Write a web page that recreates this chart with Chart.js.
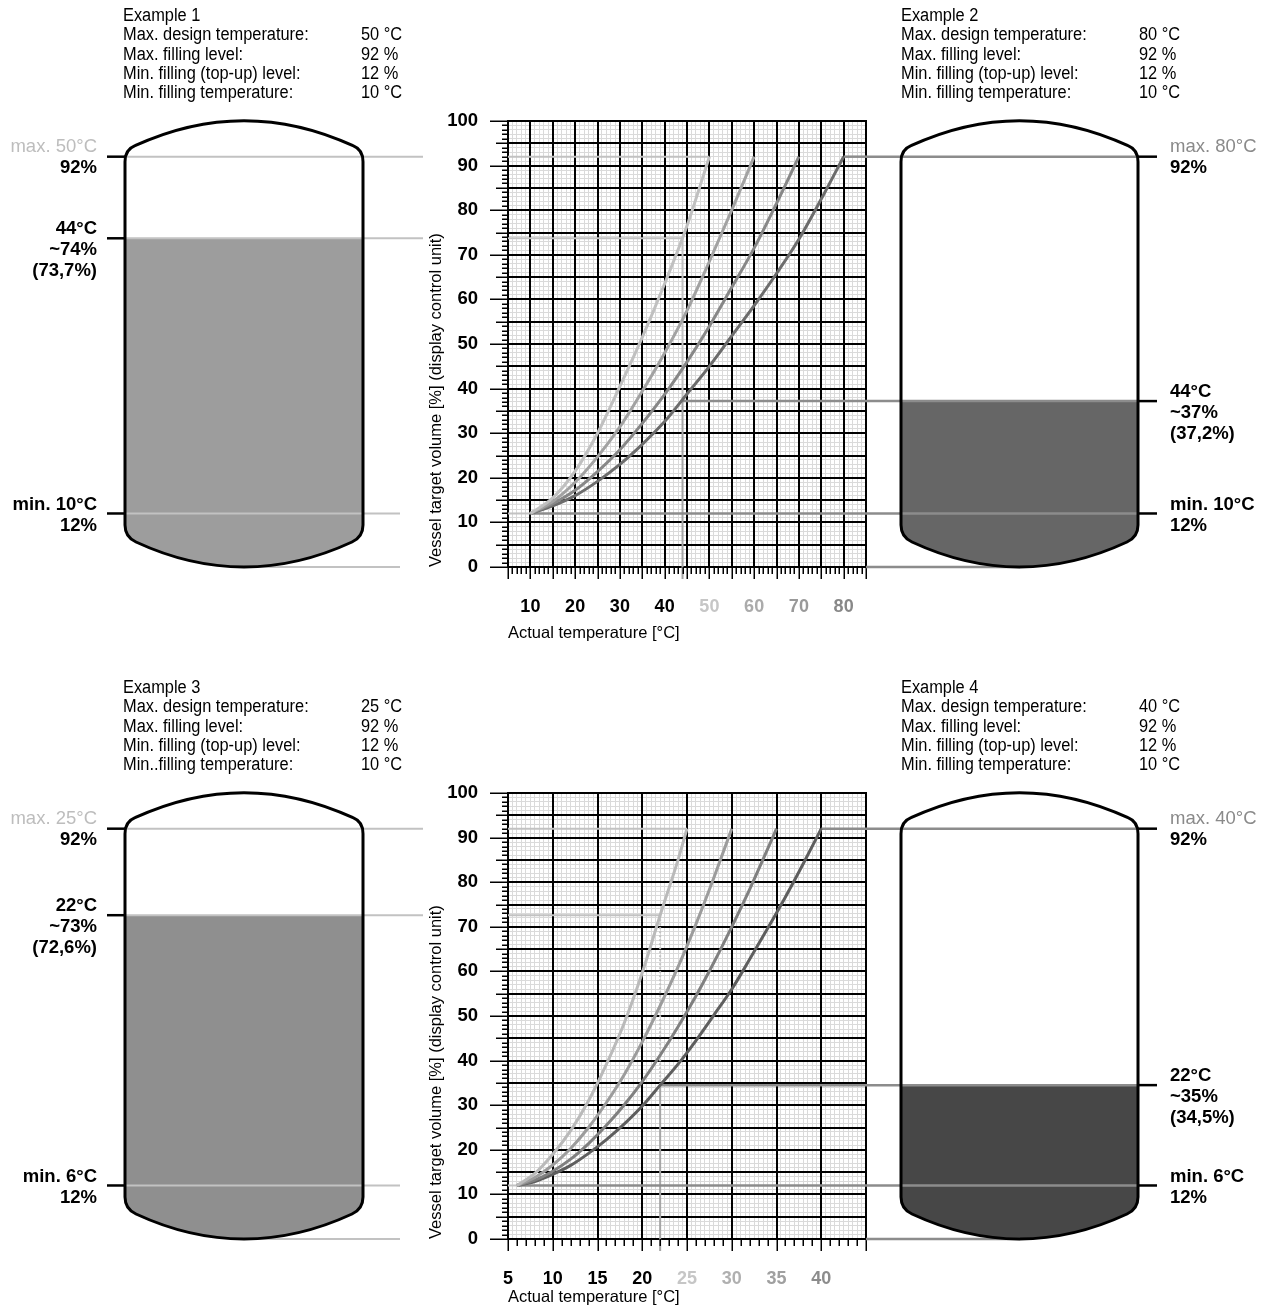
<!DOCTYPE html>
<html>
<head>
<meta charset="utf-8">
<title>Vessel target volume - examples</title>
<script src="https://cdn.jsdelivr.net/npm/chart.js@4.4.1/dist/chart.umd.min.js"></script>
<style>
  html, body { margin: 0; padding: 0; background: #fff; }
  canvas { display: block; }
</style>
</head>
<body>
<canvas id="chartTop" width="1269" height="672"></canvas>
<canvas id="chartBottom" width="1269" height="638"></canvas>
<script>
// ---------- data ----------
const headerLabels = ['Max. design temperature:', 'Max. filling level:', 'Min. filling (top-up) level:', 'Min. filling temperature:'];
const headerLabelsEx3 = ['Max. design temperature:', 'Max. filling level:', 'Min. filling (top-up) level:', 'Min..filling temperature:'];
const ex1Values = ['50 °C', '92 %', '12 %', '10 °C'];
const ex2Values = ['80 °C', '92 %', '12 %', '10 °C'];
const ex3Values = ['25 °C', '92 %', '12 %', '10 °C'];
const ex4Values = ['40 °C', '92 %', '12 %', '10 °C'];

const maxLevel = 92;
const minLevel = 12;

// top chart (examples 1 + 2), curves for max temp 50/60/70/80 °C
const tempsTop = [10, 15, 20, 25, 30, 35, 40, 45, 50, 55, 60, 65, 70, 75, 80];
const curveTop50 = [12, 15.5, 21.5, 30, 40.5, 51.5, 63.5, 76.5, 92];
const curveTop60 = [12, 14.7, 19, 24.7, 31.4, 39.4, 48, 57.5, 68.5, 80, 92];
const curveTop70 = [12, 14.2, 17.2, 21.4, 26.3, 32.2, 38.7, 46, 54, 62.7, 71.5, 81.5, 92];
const curveTop80 = [12, 13.7, 16, 19.2, 23, 27.5, 32.6, 38.8, 45, 51.8, 58.6, 65.8, 73.5, 82.5, 92];
const xLabelsTop = [10, 20, 30, 40, 50, 60, 70, 80];

// bottom chart (examples 3 + 4), curves for max temp 25/30/35/40 °C
const temps25 = [6, 8, 10, 12, 14, 16, 18, 20, 22, 24, 25];
const curveBot25 = [12, 14.7, 19, 24.3, 31, 39.2, 48.5, 59.7, 72.6, 85, 92];
const temps30 = [6, 8, 10, 12, 14, 16, 18, 20, 22, 24, 26, 28, 30];
const curveBot30 = [12, 13.8, 16.6, 20.3, 25, 30.6, 36.9, 44.2, 52.3, 61, 70.6, 81, 92];
const temps35 = [6, 8, 10, 12, 14, 16, 18, 20, 22, 24, 26, 28, 30, 32, 34, 35];
const curveBot35 = [12, 13.2, 15.2, 17.9, 21.4, 25.5, 30.1, 35.3, 41.2, 47.6, 54.5, 62, 70, 78.4, 87.4, 92];
const temps40 = [6, 8, 10, 12, 14, 16, 18, 20, 22, 24, 26, 28, 30, 32, 34, 36, 38, 40];
const curveBot40 = [12, 12.9, 14.5, 16.5, 19.2, 22.3, 25.8, 29.8, 34.5, 39.2, 44.5, 50.2, 56, 62.7, 69.6, 76.7, 84.2, 92];
const xLabelsBottom = [5, 10, 15, 20, 25, 30, 35, 40];

// operating points [temperature, level] and their labels
const ex1Point = [44, 73.7];
const ex2Point = [44, 37.2];
const ex3Point = [22, 72.6];
const ex4Point = [22, 34.5];
const ex1Text = ['44°C', '~74%', '(73,7%)'];
const ex2Text = ['44°C', '~37%', '(37,2%)'];
const ex3Text = ['22°C', '~73%', '(72,6%)'];
const ex4Text = ['22°C', '~35%', '(34,5%)'];

// ---------- styles ----------
const FONT = "'Liberation Sans', Arial, Helvetica, sans-serif";
const LIGHT = '#c2c2c2';
const DARK = '#8c8c8c';
const xLabelColorsTop = ['#000', '#000', '#000', '#000', '#c6c6c6', '#ababab', '#999', '#888'];
const xLabelColorsBottom = ['#000', '#000', '#000', '#000', '#c6c6c6', '#b0b0b0', '#a0a0a0', '#8c8c8c'];

function seg(ctx, x1, y1, x2, y2, color, w, dash) {
  ctx.save();
  ctx.strokeStyle = color;
  ctx.lineWidth = w;
  if (dash) ctx.setLineDash(dash);
  ctx.beginPath();
  ctx.moveTo(x1, y1);
  ctx.lineTo(x2, y2);
  ctx.stroke();
  ctx.restore();
}

// narrow text: draw a bigger font squeezed horizontally
function narrowText(ctx, text, x0, y0, sx) {
  ctx.save();
  ctx.translate(x0, y0);
  ctx.scale(sx, 1);
  ctx.fillText(text, 0, 0);
  ctx.restore();
}

// vessel outline: flat-ish domes top and bottom
function vesselPath(ctx, xl, xr, y92, y0) {
  const cx = (xl + xr) / 2;
  ctx.beginPath();
  ctx.moveTo(xl, y92 + 5);
  ctx.quadraticCurveTo(xl, y92 - 7, xl + 10, y92 - 11);
  ctx.quadraticCurveTo(cx, y92 - 61, xr - 10, y92 - 11);
  ctx.quadraticCurveTo(xr, y92 - 7, xr, y92 + 5);
  ctx.lineTo(xr, y0 - 42);
  ctx.quadraticCurveTo(xr, y0 - 30, xr - 11, y0 - 25);
  ctx.quadraticCurveTo(cx, y0 + 25, xl + 11, y0 - 25);
  ctx.quadraticCurveTo(xl, y0 - 30, xl, y0 - 42);
  ctx.closePath();
}

function makePlugin(cfg) {
  return {
    id: 'vessels' + cfg.name,
    beforeDatasetsDraw(chart) {
      const {ctx, chartArea: a, scales: {x, y}} = chart;
      // heavy grid every 5 units
      ctx.save();
      ctx.strokeStyle = '#000';
      ctx.lineWidth = 2;
      ctx.beginPath();
      for (let v = cfg.xMin; v <= cfg.xMax + 1e-9; v += 5) {
        const px = Math.round(x.getPixelForValue(v));
        ctx.moveTo(px, a.top - 1);
        ctx.lineTo(px, a.bottom + 1);
      }
      for (let v = 0; v <= 100; v += 5) {
        const py = Math.round(y.getPixelForValue(v));
        ctx.moveTo(a.left - 1, py);
        ctx.lineTo(a.right + 1, py);
      }
      ctx.stroke();
      ctx.restore();

      const yp = v => y.getPixelForValue(v);
      const xp = v => x.getPixelForValue(v);
      const op = cfg.opTemp;
      // left example guides (light)
      seg(ctx, a.left, yp(maxLevel), xp(cfg.left.maxTemp), yp(maxLevel), LIGHT, 2);
      seg(ctx, a.left, yp(cfg.left.level), xp(op), yp(cfg.left.level), LIGHT, 2);
      seg(ctx, a.left, yp(minLevel), xp(cfg.startTemp), yp(minLevel), LIGHT, 2);
      seg(ctx, xp(op), yp(cfg.left.level), xp(op), yp(cfg.right.level), LIGHT, 2, cfg.dashedUpper ? [2, 2] : null);
      seg(ctx, xp(op), yp(cfg.right.level), xp(op), yp(0) + 12, '#a5a5a5', 2);
      // right example guides (dark)
      seg(ctx, xp(cfg.right.maxTemp), yp(maxLevel), a.right, yp(maxLevel), DARK, 2.5);
      seg(ctx, xp(op), yp(cfg.right.level), a.right, yp(cfg.right.level), DARK, 2.5);
      seg(ctx, xp(cfg.startTemp), yp(minLevel), a.right, yp(minLevel), DARK, 2.5);
    },
    afterDraw(chart) {
      const {ctx, chartArea: a, scales: {x, y}} = chart;
      const yp = v => y.getPixelForValue(v);
      const y92 = yp(maxLevel), y12 = yp(minLevel), y0 = yp(0);
      const yL = yp(cfg.left.level), yR = yp(cfg.right.level);

      // axis tick marks
      ctx.save();
      ctx.strokeStyle = '#000';
      ctx.lineWidth = 1.5;
      ctx.beginPath();
      for (let v = 0; v <= 100; v++) {
        const len = v % 10 === 0 ? 18 : (v % 5 === 0 ? 12 : 6);
        const py = Math.round(yp(v)) + 0.25;
        ctx.moveTo(a.left - len, py);
        ctx.lineTo(a.left, py);
      }
      for (let t = cfg.xMin; t <= cfg.xMax; t++) {
        const len = t % 5 === 0 ? 12 : 7;
        const px = Math.round(x.getPixelForValue(t)) + 0.25;
        ctx.moveTo(px, a.bottom);
        ctx.lineTo(px, a.bottom + len);
      }
      ctx.stroke();
      ctx.restore();

      // vessel fills
      const vessels = [
        {xl: 125, xr: 363, level: yL, fill: cfg.left.fill},
        {xl: 901, xr: 1138, level: yR, fill: cfg.right.fill}
      ];
      vessels.forEach(v => {
        ctx.save();
        vesselPath(ctx, v.xl, v.xr, y92, y0);
        ctx.fillStyle = '#fff';
        ctx.fill();
        ctx.clip();
        ctx.fillStyle = v.fill;
        ctx.fillRect(v.xl - 5, v.level, v.xr - v.xl + 10, y0 - v.level + 30);
        ctx.restore();
      });

      // guide lines outside the plot
      seg(ctx, 125, y92, 423, y92, LIGHT, 2);
      seg(ctx, 125, yL, 423, yL, LIGHT, 2);
      seg(ctx, 125, y12, 400, y12, LIGHT, 2);
      seg(ctx, 244, y0, 400, y0, LIGHT, 2);
      seg(ctx, a.right, y92, 1138, y92, DARK, 2.5);
      seg(ctx, a.right, yR, 1138, yR, DARK, 2.5);
      seg(ctx, a.right, y12, 1138, y12, DARK, 2.5);
      seg(ctx, a.right, y0, 1020, y0, DARK, 2.5);

      // vessel outlines
      vessels.forEach(v => {
        ctx.save();
        vesselPath(ctx, v.xl, v.xr, y92, y0);
        ctx.strokeStyle = '#000';
        ctx.lineWidth = 3;
        ctx.stroke();
        ctx.restore();
      });

      // black marks at the vessel walls
      [y92, yL, y12].forEach(py => seg(ctx, 107, py, 125, py, '#000', 2.5));
      [y92, yR, y12].forEach(py => seg(ctx, 1138, py, 1157, py, '#000', 2.5));

      // level labels
      ctx.save();
      ctx.textBaseline = 'middle';
      const labelSet = (side, x0, lv) => {
        ctx.textAlign = side === 'left' ? 'right' : 'left';
        ctx.font = '18.5px ' + FONT;
        ctx.fillStyle = lv.maxColor;
        ctx.fillText(lv.maxText, x0, y92 - 10);
        ctx.font = 'bold 18.5px ' + FONT;
        ctx.fillStyle = '#000';
        ctx.fillText(maxLevel + '%', x0, y92 + 11);
        const ly = yp(lv.level);
        lv.text.forEach((t, i) => ctx.fillText(t, x0, ly - 9 + i * 21));
        ctx.fillText(cfg.minText, x0, y12 - 9);
        ctx.fillText(minLevel + '%', x0, y12 + 12);
      };
      labelSet('left', 97, cfg.left);
      labelSet('right', 1170, cfg.right);

      // header blocks (narrow type)
      ctx.textAlign = 'left';
      ctx.font = '18px ' + FONT;
      ctx.fillStyle = '#000';
      const header = (x0, title, labels, values) => {
        narrowText(ctx, title, x0, 16, 0.91);
        labels.forEach((l, i) => {
          narrowText(ctx, l, x0, 35.5 + i * 19.3, 0.91);
          narrowText(ctx, values[i], x0 + 238, 35.5 + i * 19.3, 0.91);
        });
      };
      header(123, cfg.left.title, cfg.left.labels, cfg.left.values);
      header(901, cfg.right.title, cfg.right.labels, cfg.right.values);
      ctx.restore();
    }
  };
}

function buildChart(id, cfg) {
  const datasets = cfg.curves.map((c, i) => ({
    data: c.values.map((v, k) => ({x: c.temps[k], y: v})),
    borderColor: cfg.curveColors[i],
    borderWidth: 3,
    pointRadius: 0,
    fill: false,
    cubicInterpolationMode: 'monotone'
  }));
  return new Chart(document.getElementById(id), {
    type: 'line',
    data: {datasets: datasets},
    options: {
      responsive: false,
      animation: false,
      layout: {padding: {left: 423, right: 403, top: 121, bottom: cfg.padBottom}},
      plugins: {legend: {display: false}, tooltip: {enabled: false}},
      scales: {
        x: {
          type: 'linear',
          min: cfg.xMin,
          max: cfg.xMax,
          afterFit: s => { s.height = cfg.xHeight; },
          border: {display: false},
          grid: {color: '#dadada', lineWidth: 1, drawTicks: false},
          ticks: {
            stepSize: cfg.xGridStep,
            autoSkip: false,
            maxRotation: 0,
            padding: 29,
            callback: v => (cfg.xLabels.indexOf(v) >= 0 ? String(v) : ''),
            color: c => {
              const i = cfg.xLabels.indexOf(c.tick.value);
              return i >= 0 ? cfg.xLabelColors[i] : '#000';
            },
            font: {family: FONT, size: 18, weight: 'bold'}
          },
          title: {
            display: true,
            text: 'Actual temperature [°C]',
            align: 'start',
            color: '#000',
            font: {family: FONT, size: 16.5},
            padding: {top: 4, bottom: 0}
          }
        },
        y: {
          type: 'linear',
          min: 0,
          max: 100,
          afterFit: s => { s.width = 85; },
          border: {display: false},
          grid: {color: '#dadada', lineWidth: 1, drawTicks: false},
          ticks: {
            stepSize: 1,
            autoSkip: false,
            padding: 30,
            callback: v => (v % 10 === 0 ? String(v) : ''),
            color: '#000',
            font: {family: FONT, size: 18.5, weight: 'bold'}
          },
          title: {
            display: true,
            text: 'Vessel target volume [%] (display control unit)',
            align: 'start',
            color: '#000',
            font: {family: FONT, size: 16.5},
            padding: {top: 4, bottom: 4}
          }
        }
      }
    },
    plugins: [makePlugin(cfg)]
  });
}

const topCfg = {
  name: 'Top', xMin: 5, xMax: 85, xGridStep: 1, xHeight: 76, padBottom: 29,
  xLabels: xLabelsTop, xLabelColors: xLabelColorsTop,
  curves: [
    {temps: tempsTop, values: curveTop50},
    {temps: tempsTop, values: curveTop60},
    {temps: tempsTop, values: curveTop70},
    {temps: tempsTop, values: curveTop80}
  ],
  curveColors: ['#c0c0c0', '#a2a2a2', '#878787', '#6c6c6c'],
  opTemp: ex1Point[0], startTemp: 10, minText: 'min. 10°C', dashedUpper: false,
  left: {title: 'Example 1', labels: headerLabels, values: ex1Values, maxTemp: 50, maxText: 'max. 50°C', maxColor: '#bdbdbd',
         level: ex1Point[1], text: ex1Text, fill: '#9d9d9d'},
  right: {title: 'Example 2', labels: headerLabels, values: ex2Values, maxTemp: 80, maxText: 'max. 80°C', maxColor: '#8a8a8a',
          level: ex2Point[1], text: ex2Text, fill: '#666666'}
};

const bottomCfg = {
  name: 'Bottom', xMin: 5, xMax: 45, xGridStep: 0.5, xHeight: 68, padBottom: 3,
  xLabels: xLabelsBottom, xLabelColors: xLabelColorsBottom,
  curves: [
    {temps: temps25, values: curveBot25},
    {temps: temps30, values: curveBot30},
    {temps: temps35, values: curveBot35},
    {temps: temps40, values: curveBot40}
  ],
  curveColors: ['#bababa', '#9c9c9c', '#808080', '#5e5e5e'],
  opTemp: ex3Point[0], startTemp: 6, minText: 'min. 6°C', dashedUpper: true,
  left: {title: 'Example 3', labels: headerLabelsEx3, values: ex3Values, maxTemp: 25, maxText: 'max. 25°C', maxColor: '#bdbdbd',
         level: ex3Point[1], text: ex3Text, fill: '#8f8f8f'},
  right: {title: 'Example 4', labels: headerLabels, values: ex4Values, maxTemp: 40, maxText: 'max. 40°C', maxColor: '#8a8a8a',
          level: ex4Point[1], text: ex4Text, fill: '#474747'}
};

buildChart('chartTop', topCfg);
buildChart('chartBottom', bottomCfg);
</script>
</body>
</html>
